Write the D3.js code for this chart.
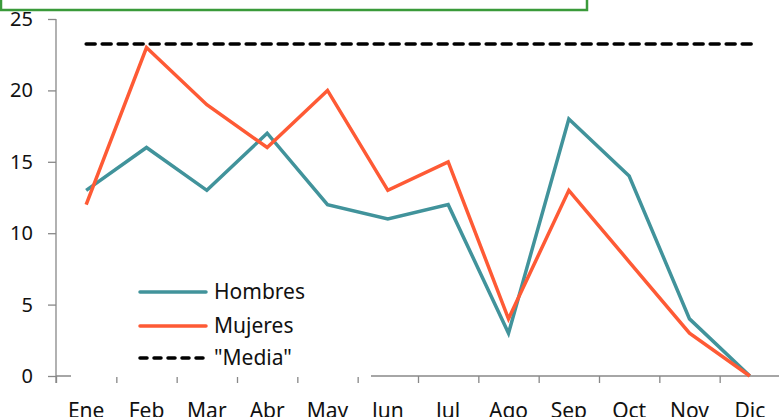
<!DOCTYPE html>
<html><head><meta charset="utf-8">
<script src="https://cdn.jsdelivr.net/npm/d3@7"></script>
<style>
html,body{margin:0;padding:0;background:#fff;}
svg{display:block;font-family:"Noto Sans",sans-serif;}
</style></head>
<body><svg id="c" width="779" height="417"></svg>
<script>
const months = ["Ene","Feb","Mar","Abr","May","Jun","Jul","Ago","Sep","Oct","Nov","Dic"];
const hombres = [13,16,13,17,12,11,12,3,18,14,4,0];
const mujeres = [12,23,19,16,20,13,15,4,13,8,3,0];
const media = 23.25;
const yTicks = [0,5,10,15,20,25];
const seriesNames = ["Hombres","Mujeres","\"Media\""];
const colors = {Hombres:"#41939b", Mujeres:"#fe5a35", Media:"#000"};

const svg = d3.select("#c");
const x = d3.scaleBand().domain(months).range([56,780]);
const y = d3.scaleLinear().domain([0,25]).range([376,19]);
const cx = m => x(m) + x.bandwidth()/2;

// title box (cut off at top)
svg.append("rect").attr("x",1).attr("y",-30).attr("width",586).attr("height",40)
  .attr("fill","#fff").attr("stroke","#3a9a3a").attr("stroke-width",2.5);

// y axis
const gy = svg.append("g").attr("transform","translate(56,0)")
  .call(d3.axisLeft(y).tickValues(yTicks).tickSize(8).tickPadding(15));
gy.select(".domain").attr("stroke","#888").attr("stroke-width",1.3).attr("d","M0,19V383");
gy.selectAll(".tick line").attr("stroke","#888").attr("stroke-width",1.3);
gy.selectAll("text").attr("font-size",20).attr("fill","#111").attr("font-family","Noto Sans");

// x axis
const gx = svg.append("g").attr("transform","translate(0,376)");
gx.append("line").attr("x1",56).attr("x2",780).attr("stroke","#888").attr("stroke-width",1.3);
gx.selectAll("line.t").data(months).enter().append("line").attr("class","t")
  .attr("x1",d=>x(d)+0.5).attr("x2",d=>x(d)+0.5).attr("y1",0).attr("y2",7)
  .attr("stroke","#888").attr("stroke-width",1.3);
gx.selectAll("text").data(months).enter().append("text")
  .attr("x",d=>cx(d)).attr("y",42).attr("text-anchor","middle")
  .attr("font-size",21).attr("fill","#111").text(d=>d);

const line = d3.line().x((d,i)=>cx(months[i])).y(d=>y(d));
// media
svg.append("line").attr("x1",cx("Ene")).attr("x2",cx("Dic")+2).attr("y1",y(media)).attr("y2",y(media))
  .attr("stroke","#000").attr("stroke-width",3.5).attr("stroke-dasharray","9,7").attr("stroke-linecap","round");
svg.append("path").datum(hombres).attr("d",line).attr("fill","none")
  .attr("stroke",colors.Hombres).attr("stroke-width",3.5);
svg.append("path").datum(mujeres).attr("d",line).attr("fill","none")
  .attr("stroke",colors.Mujeres).attr("stroke-width",3.5);

// legend
const lg = svg.append("g");
lg.append("rect").attr("x",71).attr("y",272).attr("width",300).attr("height",105).attr("fill","#fff");
const ly = [292,326,358];
const lstroke = [colors.Hombres, colors.Mujeres, colors.Media];
seriesNames.forEach((n,i)=>{
  const l = lg.append("line").attr("x1",140).attr("x2",206).attr("y1",ly[i]).attr("y2",ly[i])
    .attr("stroke",lstroke[i]).attr("stroke-width",3.5).attr("stroke-linecap","round");
  if(i===2) l.attr("stroke-dasharray","7,7");
  lg.append("text").attr("x",214).attr("y",ly[i]+7).attr("font-size",21).attr("fill","#111").text(n);
});
</script></body></html>
